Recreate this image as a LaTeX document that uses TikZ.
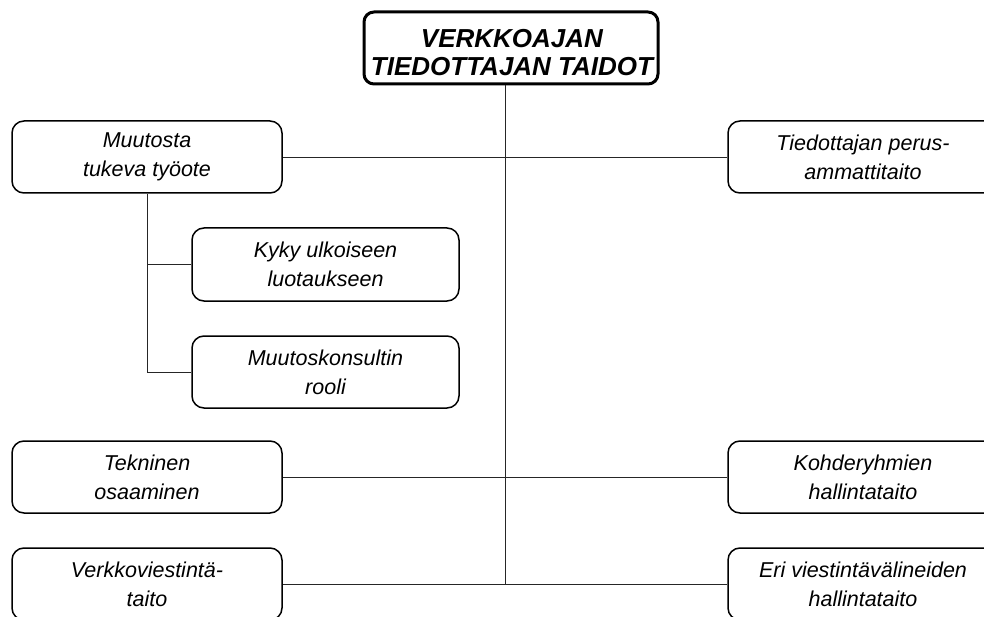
\documentclass[tikz,border=0pt]{standalone}
\usepackage{fontspec}
\setmainfont{Liberation Sans}
\begin{document}
\begin{tikzpicture}[x=1pt,y=-1pt,
  skill/.style={draw, line width=1.5pt, rounded corners=12pt, inner sep=0pt,
    minimum width=270pt, minimum height=72pt, align=center,
    font=\fontsize{21.5}{29}\selectfont\itshape},
  headbox/.style={draw, line width=3pt, rounded corners=10pt, inner sep=0pt,
    minimum width=294pt, minimum height=72pt},
  headtext/.style={inner sep=0pt, align=center,
    font=\fontsize{26}{28}\selectfont\bfseries\itshape},
  link/.style={draw=black!85, line width=0.9pt}]
\useasboundingbox (0,0) rectangle (984,617);
\clip (0,0) rectangle (984,617);

% heading frame and its two-line text
\node[headbox] (title) at (511,48) {};
\node[headtext] (titletext) at (512,53) {VERKKOAJAN\\TIEDOTTAJAN TAIDOT};

% left column
\node[skill] (l1) at (147,157) {Muutosta\\tukeva työote};
\node[skill] (l3) at (147,477) {Tekninen\\osaaminen};
\node[skill] (l4) at (147,584) {Verkkoviestintä-\\taito};

% sub-items under the first left box
\node[skill, minimum width=267pt, minimum height=73pt] (k1) at (325.5,264.5) {Kyky ulkoiseen\\luotaukseen};
\node[skill, minimum width=267pt] (k2) at (325.5,372) {Muutoskonsultin\\rooli};

% right column
\node[skill] (r1) at (863,157) {Tiedottajan perus-\\ammattitaito};
\node[skill] (r3) at (863,477) {Kohderyhmien\\hallintataito};
\node[skill] (r4) at (863,584) {Eri viestintävälineiden\\hallintataito};

% trunk and branches
\coordinate (hub) at (505,584);
\draw[link] (title.south -| hub) -- (hub);
\draw[link] (l1.east) -- (r1.west);
\draw[link] (l3.east) -- (r3.west);
\draw[link] (l4.east) -- (r4.west);
\draw[link] (l1.south) -- (l1.south |- k2.west) -- (k2.west);
\draw[link] (l1.south |- k1.west) -- (k1.west);
\end{tikzpicture}
\end{document}
